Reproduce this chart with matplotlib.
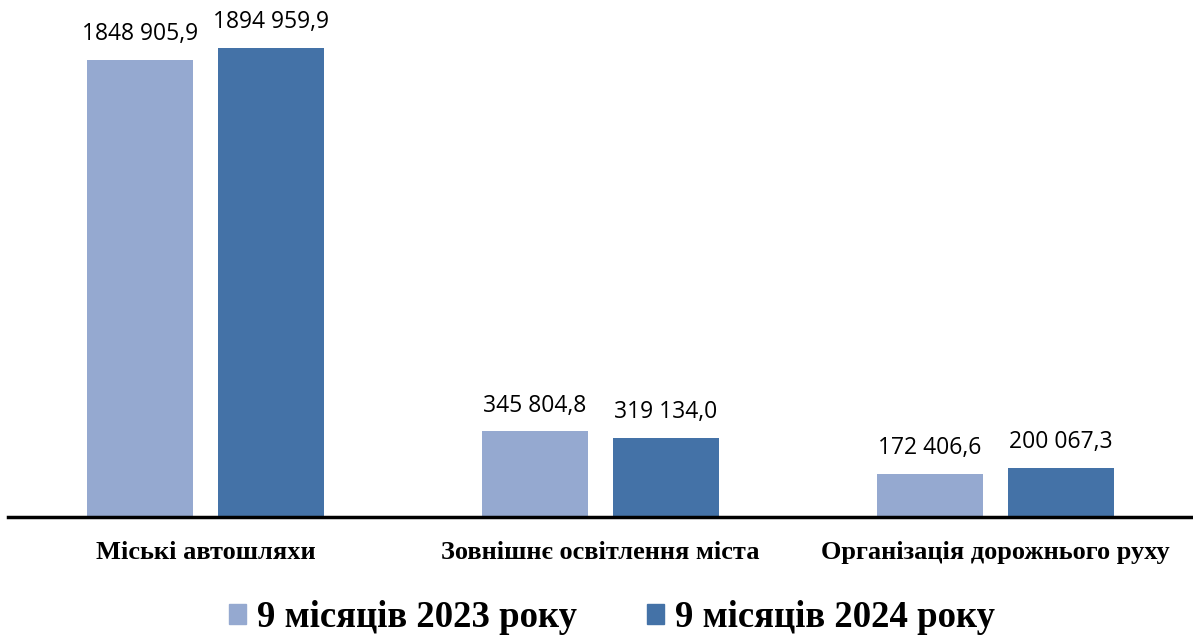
import matplotlib
matplotlib.use("Agg")
import matplotlib.pyplot as plt
import numpy as np

categories = ["Міські автошляхи", "Зовнішнє освітлення міста", "Організація дорожнього руху"]
series_names = ["9 місяців 2023 року", "9 місяців 2024 року"]
values_2023 = [1848905.9, 345804.8, 172406.6]
values_2024 = [1894959.9, 319134.0, 200067.3]
colors = ["#95A9D0", "#4472A7"]

def fmt(v):
    whole = int(v)
    dec = int(round((v - whole) * 10))
    return f"{whole // 1000} {whole % 1000:03d},{dec}"

fig = plt.figure(figsize=(11.93, 6.37), dpi=100)
ax = fig.add_axes([8/1193, (637-517)/637, 1 - 8/1193, 517/637])
x = np.arange(len(categories))
w = 0.268
off = 0.166
for vals, o, c, name in [(values_2023, -off, colors[0], series_names[0]),
                         (values_2024, off, colors[1], series_names[1])]:
    bars = ax.bar(x + o, vals, width=w, color=c, label=name, zorder=2)
    for b, v in zip(bars, vals):
        ax.annotate(fmt(v), (b.get_x() + b.get_width()/2, v), xytext=(0, 10),
                    textcoords="offset points", ha="center", va="bottom",
                    fontsize=16.5, family="Open Sans", color="#000000")

ax.set_xlim(-0.5, 2.5)
ax.set_ylim(0, 2.09e6)
for s in ["top", "right", "left"]:
    ax.spines[s].set_visible(False)
ax.spines["bottom"].set_linewidth(2.5)
ax.spines["bottom"].set_color("black")
ax.set_yticks([])
ax.set_xticks(x)
ax.set_xticklabels(categories, fontsize=19, family="Liberation Serif", fontweight="bold")
ax.tick_params(axis="x", length=0, pad=17)

handles = [plt.Rectangle((0, 0), 1, 1, color=c) for c in colors]
fig.legend(handles, series_names, loc="center", bbox_to_anchor=(0.513, 0.03),
           ncol=2, frameon=False, prop={"family": "Liberation Serif", "weight": "bold", "size": 26.5},
           handlelength=0.46, handleheight=0.46, handletextpad=0.3, columnspacing=1.9)

fig.savefig("out.png", dpi=100)
